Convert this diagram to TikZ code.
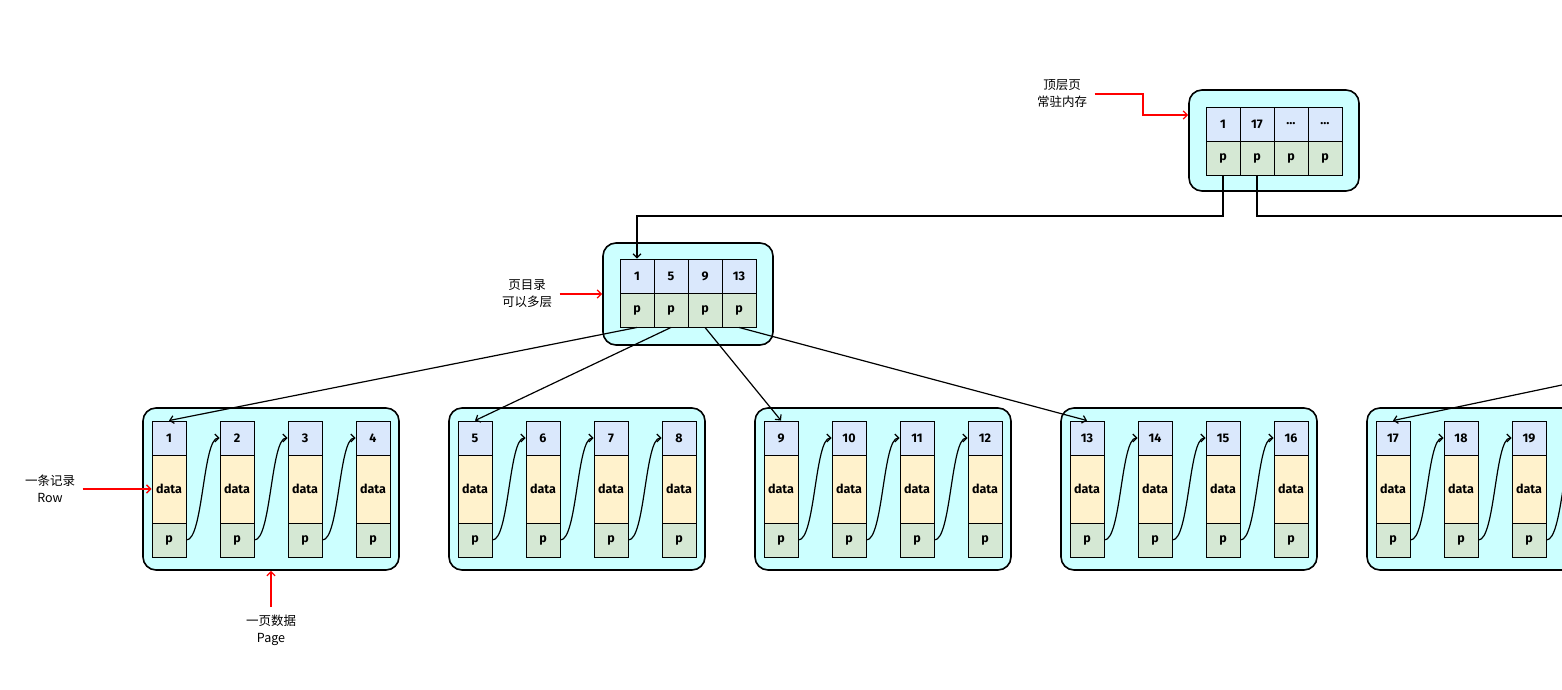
\documentclass[tikz,border=0pt]{standalone}
\usepackage{fontspec}
\setmainfont{Fira Sans}
\newfontfamily\cjk{Noto Sans CJK SC}
\usetikzlibrary{arrows.meta}
\tikzset{>={Straight Barb[scale=1]}}
\definecolor{keyblue}{HTML}{DAE8FC}
\definecolor{datayellow}{HTML}{FFF2CC}
\definecolor{ptrgreen}{HTML}{D5E8D4}
\definecolor{pagecyan}{HTML}{CCFFFF}

\begin{document}
\begin{tikzpicture}[x=1pt, y=-1pt,
    page/.style={draw, line width=1.6pt, rounded corners=13pt, fill=pagecyan, inner sep=0pt},
    cell/.style={draw, line width=0.9pt, minimum width=34pt, minimum height=34pt, inner sep=0pt,
      font=\bfseries\fontsize{12.5}{14}\selectfont},
    keycell/.style={cell, fill=keyblue},
    datacell/.style={cell, fill=datayellow, minimum height=68pt},
    ptrcell/.style={cell, fill=ptrgreen},
    note/.style={align=center, font=\cjk\fontsize{12.5}{17}\selectfont},
    link/.style={->, line width=1.2pt},
    hint/.style={->, red, line width=1.3pt, shorten <=4pt}]
      \useasboundingbox (0,0) rectangle (1562,690);
      \clip (0,0) rectangle (1562,690);
      % top page
      \node[page, minimum width=170pt, minimum height=101pt] (toppage) at (1274,140.5) {};
      \foreach \k [count=\i] in {1,17,{\ldots},{\ldots}} {
        \node[keycell] (tkey\i) at (1189+34*\i,124) {\k};
        \node[ptrcell] (tptr\i) at (1189+34*\i,158) {p};
      }
      % directory page
      \node[page, minimum width=170pt, minimum height=102pt] (midpage) at (688,294) {};
      \foreach \k [count=\i] in {1,5,9,13} {
        \node[keycell] (mkey\i) at (603+34*\i,276) {\k};
        \node[ptrcell] (mptr\i) at (603+34*\i,310) {p};
      }
      % data pages
      \foreach \n/\last in {0/4,1/4,2/4,3/4,4/3} {
        \node[page, minimum width=256pt, minimum height=162pt] (page\n) at (271+306*\n,489) {};
        \foreach \j in {1,...,\last} {
          \pgfmathtruncatemacro\r{4*\n+\j}
          \node[keycell] (key\r) at (101+306*\n+68*\j,438) {\r};
          \node[datacell] (data\r) at (101+306*\n+68*\j,489) {data};
          \node[ptrcell] (ptr\r) at (101+306*\n+68*\j,540) {p};
        }
      }
      \coordinate (key20) at (1580,438);
      % record links
      \foreach \r in {1,2,3,5,6,7,9,10,11,13,14,15,17,18,19} {
        \pgfmathtruncatemacro\s{\r+1}
        \draw[link] (ptr\r.east) to[out=0, in=180, looseness=0.4] (key\s.west);
      }
      % tree lines
      \coordinate (bus) at (0,216);
      \coordinate (offright) at (1600,216);
      \coordinate (offnext) at (1600,377);
      \draw[link] (tptr1.south) -- (tptr1.south |- bus) -| (mkey1.north);
      \draw[line width=1.2pt] (tptr2.south) |- (offright);
      \draw[link] (mptr1.south) -- (key1.north);
      \draw[link] (mptr2.south) -- (key5.north);
      \draw[link] (mptr3.south) -- (key9.north);
      \draw[link] (mptr4.south) -- (key13.north);
      \draw[link] (offnext) -- (key17.north);
      % notes
      \node[note] (toplabel) at (1062,94) {顶层页\\常驻内存};
      \coordinate (topbend) at (1143,115);
      \draw[hint] (toplabel.east) -| (topbend) -- (topbend -| toppage.west);
      \node[note] (midlabel) at (527,294) {页目录\\可以多层};
      \draw[hint] (midlabel.east) -- (midpage.west);
      \node[note] (rowlabel) at (50,489) {一条记录\\Row};
      \draw[hint] (rowlabel.east) -- (data1.west);
      \node[note] (pagelabel) at (271,630) {一页数据\\Page};
      \draw[hint] (pagelabel.north) -- (page0.south);
    \end{tikzpicture}
\end{document}
